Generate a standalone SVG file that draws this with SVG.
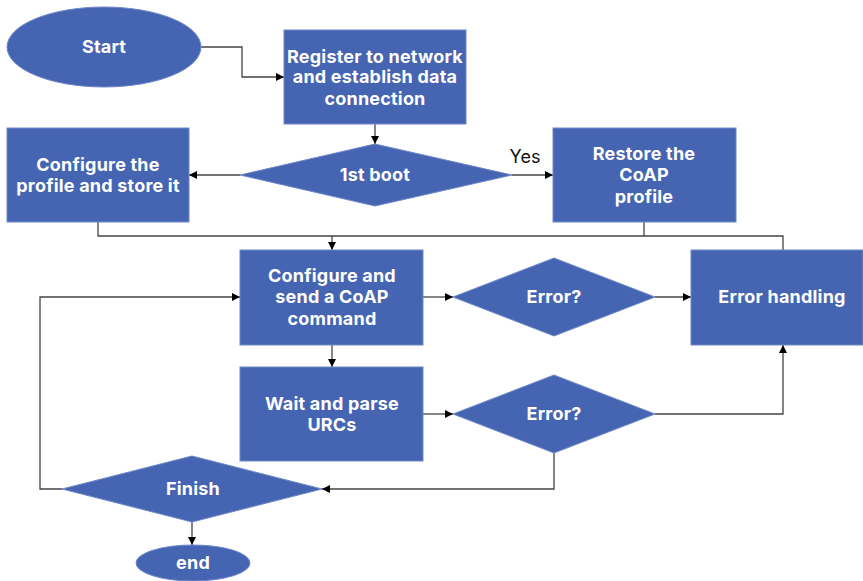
<svg xmlns="http://www.w3.org/2000/svg" width="863" height="581" viewBox="0 0 863 581">
<defs>
<marker id="arr" viewBox="0 0 10 10" refX="10" refY="5" markerWidth="8" markerHeight="8" markerUnits="userSpaceOnUse" orient="auto">
<path d="M0,0 L10,5 L0,10 z" fill="#000"/>
</marker>
<style>
.n{fill:#4564b2;stroke:#6f88c8;stroke-width:1}
.t{font-family:Inter,"Liberation Sans",Arial,sans-serif;font-weight:bold;font-size:18px;letter-spacing:0.2px;fill:#fff;text-anchor:middle;dominant-baseline:central}
.c{fill:none;stroke:#444;stroke-width:1.3;marker-end:url(#arr)}
.p{fill:none;stroke:#444;stroke-width:1.3}
.y{font-family:Inter,"Liberation Sans",Arial,sans-serif;font-size:18px;fill:#111;text-anchor:middle;dominant-baseline:central}
</style>
</defs>
<g id="connectors">
<path class="c" d="M201,47 H242 V77 H284"/>
<path class="c" d="M375,124 V144"/>
<path class="c" d="M240,175 H189"/>
<path class="c" d="M512,175 H553"/>
<path class="p" d="M98,222 V236 H783 V250"/>
<path class="p" d="M644,222 V236"/>
<path class="c" d="M332,236 V250"/>
<path class="c" d="M332,345 V367"/>
<path class="c" d="M423,297 H453"/>
<path class="c" d="M655,297 H691"/>
<path class="c" d="M423,414 H453"/>
<path class="c" d="M655,414 H783 V345"/>
<path class="c" d="M554,453 V489 H322"/>
<path class="c" d="M62,489 H40 V297 H240"/>
<path class="c" d="M192,522 V545"/>
<text class="y" x="525" y="156">Yes</text>
</g>
<g id="start"><ellipse class="n" cx="104" cy="47" rx="97" ry="40"/><text class="t" x="104" y="46">Start</text></g>
<g id="register"><rect class="n" x="284" y="30" width="182" height="94"/>
<text class="t" x="375" y="56">Register to network</text><text class="t" x="375" y="76">and establish data</text><text class="t" x="375" y="98">connection</text></g>
<g id="firstboot"><polygon class="n" points="375,144 512,175 375,206 240,175"/><text class="t" x="375" y="174">1st boot</text></g>
<g id="configprofile"><rect class="n" x="7" y="128" width="182" height="94"/>
<text class="t" x="98" y="164">Configure the</text><text class="t" x="98" y="185">profile and store it</text></g>
<g id="restore"><rect class="n" x="553" y="128" width="183" height="94"/>
<text class="t" x="644" y="153">Restore the</text><text class="t" x="644" y="174">CoAP</text><text class="t" x="644" y="196">profile</text></g>
<g id="configsend"><rect class="n" x="240" y="250" width="183" height="95"/>
<text class="t" x="332" y="275">Configure and</text><text class="t" x="332" y="296">send a CoAP</text><text class="t" x="332" y="318">command</text></g>
<g id="error1"><polygon class="n" points="554,258 655,297 554,336 453,297"/><text class="t" x="554" y="296">Error?</text></g>
<g id="errorhandling"><rect class="n" x="691" y="250" width="172" height="95"/><text class="t" x="782" y="296">Error handling</text></g>
<g id="wait"><rect class="n" x="240" y="367" width="183" height="94"/>
<text class="t" x="332" y="403">Wait and parse</text><text class="t" x="332" y="424">URCs</text></g>
<g id="error2"><polygon class="n" points="554,375 655,414 554,453 453,414"/><text class="t" x="554" y="413">Error?</text></g>
<g id="finish"><polygon class="n" points="192,456 322,489 192,522 62,489"/><text class="t" x="193" y="488">Finish</text></g>
<g id="end"><ellipse class="n" cx="193" cy="563" rx="57" ry="18"/><text class="t" x="193" y="562">end</text></g>
</svg>
